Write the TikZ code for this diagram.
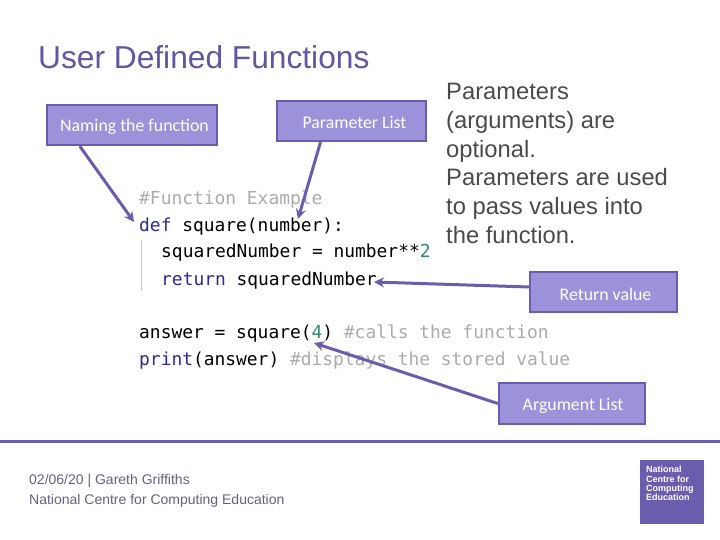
\documentclass[tikz,border=0pt]{standalone}
\usepackage{fontspec}
\setmainfont{Liberation Sans}
\newfontfamily\boxfont{Carlito}
\newfontfamily\codefont{DejaVu Sans Mono}
\usetikzlibrary{arrows.meta}
\definecolor{ncce}{HTML}{6A5DAE}
\definecolor{boxfill}{HTML}{9B92DA}
\definecolor{titlecol}{HTML}{5F58A0}
\definecolor{txt}{HTML}{4A4A4A}
\definecolor{kw}{HTML}{2A2A9A}
\definecolor{cmt}{HTML}{ABABAB}
\definecolor{numc}{HTML}{2E8B6E}
\definecolor{foot}{HTML}{62627E}
\tikzset{
 callout/.style={draw=ncce,line width=2.4pt,fill=boxfill,text=white,inner sep=0pt,
   font=\boxfont\fontsize{17.8}{20}\selectfont,align=center},
 pointer/.style={draw=ncce,line width=3pt,-{Stealth[length=10pt,width=10pt]}},
 code/.style={anchor=base west,inner sep=0pt,font=\codefont\fontsize{17.9}{20}\selectfont},
 plain/.style={anchor=base west,inner sep=0pt},
}
\newcommand{\kwd}[1]{\textcolor{kw}{#1}}
\newcommand{\cmtx}[1]{\textcolor{cmt}{#1}}
\begin{document}
\begin{tikzpicture}[x=1pt,y=-1pt]
\useasboundingbox (0,0) rectangle (720,540);
% title
\node[plain,text=titlecol,font=\fontsize{31.7}{36}\selectfont] (title) at (38,69) {User Defined Functions};
% code
\node[code,text=cmt] (c1) at (139,205) {\#Function Example};
\node[code] (c2) at (139,232) {\kwd{def} square(number):};
\node[code] (c3) at (161,258) {squaredNumber = number**\textcolor{numc}{2}};
\node[code] (c4) at (161,285) {\kwd{return} squaredNumber};
\node[code] (c5) at (139,338) {answer = square(\textcolor{numc}{4}) \cmtx{\#calls the function}};
\node[code] (c6) at (139,365) {\kwd{print}(answer) \cmtx{\#displays the stored value}};
\draw[cmt!70,line width=1pt] (141,240) -- (141,291);
% callouts
\node[callout,minimum width=170pt,minimum height=40pt] (naming) at (132,125) {\rule{0pt}{16pt}\hspace{5pt}Naming the function};
\node[callout,minimum width=149pt,minimum height=40pt] (param) at (351.5,121) {\rule{0pt}{16pt}\hspace{6pt}Parameter List};
\node[callout,minimum width=147pt,minimum height=40pt] (ret) at (603.5,292) {\rule{0pt}{18pt}\hspace{4pt}Return value};
\node[callout,minimum width=146pt,minimum height=41pt] (arg) at (572,403.5) {\rule{0pt}{18pt}\hspace{2pt}Argument List};
% connector ends
\coordinate (a1) at (134,222);
\coordinate (a2) at (298,219);
\coordinate (a3) at (374,282);
\coordinate (a4) at (314,343);
\draw[pointer] (naming.south west) ++(34,0) coordinate (n0) -- (a1);
\draw[pointer] (param.south) ++(-31,0) coordinate (p0) -- (a2);
\draw[pointer] (ret.west) ++(0,-5) coordinate (r0) -- (a3);
\draw[pointer] (arg.west) ++(0,0) coordinate (g0) -- (a4);
% body text
\node[anchor=north west,inner sep=0pt,align=left,text=txt,font=\fontsize{23.75}{28.8}\selectfont] (body) at (446,83)
 {Parameters\\(arguments) are\\optional.\\Parameters are used\\to pass values into\\the function.};
% footer
\draw[ncce,line width=3pt] (0,441) -- (720,441);
\node[plain,text=foot,font=\fontsize{14}{16}\selectfont] (f1) at (29,484) {02/06/20 | Gareth Griffiths};
\node[plain,text=foot,font=\fontsize{14}{16}\selectfont] (f2) at (29,504) {National Centre for Computing Education};
\fill[ncce] (640,460) rectangle (704,524);
\node[anchor=north west,inner sep=0pt,align=left,text=white,font=\bfseries\fontsize{9}{9.4}\selectfont] (logo) at (646,466)
 {National\\Centre for\\Computing\\Education};
\end{tikzpicture}
\end{document}
